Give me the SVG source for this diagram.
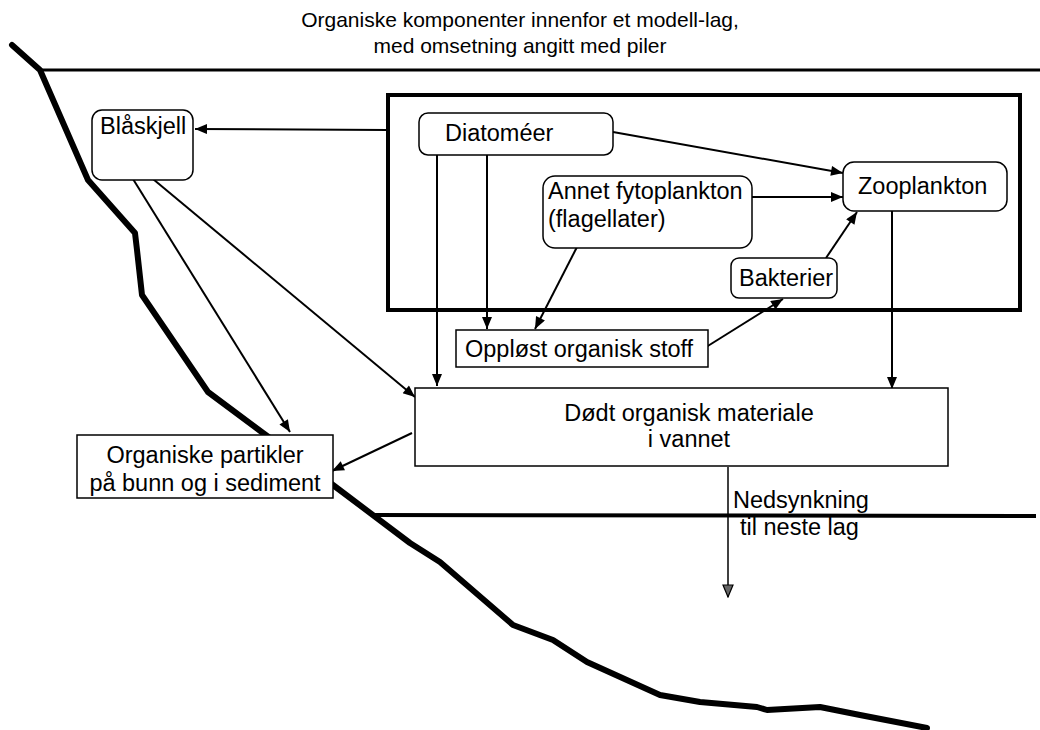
<svg xmlns="http://www.w3.org/2000/svg" width="1040" height="730" viewBox="0 0 1040 730">
<defs>
<style>
text{font-family:"Liberation Sans",Arial,sans-serif;font-size:23.5px;fill:#000}
text.title{font-size:21px}
.box{fill:#fff;stroke:#000;stroke-width:1.5}
.conn{fill:none;stroke:#000;stroke-width:2}
.thin{fill:none;stroke:#000;stroke-width:1.5}
.terrain{fill:none;stroke:#000;stroke-width:6;stroke-linejoin:round;stroke-linecap:round}
.layer{fill:none;stroke:#000}
</style>
<marker id="ah" viewBox="0 0 12 10" refX="12" refY="5" markerWidth="13" markerHeight="10" markerUnits="userSpaceOnUse" orient="auto">
<path d="M0,0 L12,5 L0,10 Z" fill="#000"/>
</marker>
<marker id="ah2" viewBox="0 0 12 14" refX="6" refY="13" markerWidth="12" markerHeight="14" markerUnits="userSpaceOnUse" orient="0">
<path d="M1,1 L11,1 L6,13 Z" fill="#666" stroke="#000" stroke-width="1.2"/>
</marker>
</defs>
<rect width="1040" height="730" fill="#fff"/>

<text class="title" x="520" y="27" text-anchor="middle">Organiske komponenter innenfor et modell-lag,</text>
<text class="title" x="520" y="53" text-anchor="middle">med omsetning angitt med piler</text>

<g id="background">
<line class="layer" x1="40" y1="70" x2="1040" y2="70" stroke-width="3"/>
<line class="layer" x1="372" y1="515" x2="1036" y2="516" stroke-width="4"/>
<polyline class="terrain" points="12,45 40,70 88,180 135,233 137,250 142,295 208,392 263,433 300,460 333,485 410,543 440,562 513,625 553,640 587,662 660,695 700,702 757,707 767,710 820,707 860,715 927,728"/>
<rect x="388" y="95" width="632" height="215" fill="none" stroke="#000" stroke-width="4"/>
</g>

<g id="connectors">
<line class="conn" x1="388" y1="130" x2="195" y2="129" marker-end="url(#ah)"/>
<line class="conn" x1="613" y1="132" x2="843" y2="173" marker-end="url(#ah)"/>
<line class="conn" x1="752" y1="197" x2="843" y2="197" marker-end="url(#ah)"/>
<line class="conn" x1="826" y1="258" x2="857" y2="212" marker-end="url(#ah)"/>
<line class="conn" x1="577" y1="247" x2="535" y2="329" marker-end="url(#ah)"/>
<line class="conn" x1="703" y1="349" x2="783" y2="299" marker-end="url(#ah)"/>
<line class="conn" x1="437" y1="155" x2="437" y2="386" marker-end="url(#ah)"/>
<line class="conn" x1="487" y1="155" x2="487" y2="329" marker-end="url(#ah)"/>
<line class="conn" x1="892" y1="211" x2="892" y2="389" marker-end="url(#ah)"/>
<line class="conn" x1="133" y1="179" x2="290" y2="432" marker-end="url(#ah)"/>
<line class="conn" x1="153" y1="179" x2="415" y2="397" marker-end="url(#ah)"/>
<line class="conn" x1="412" y1="433" x2="332" y2="471" marker-end="url(#ah)"/>
<line class="thin" x1="728" y1="467" x2="728" y2="597" marker-end="url(#ah2)"/>
</g>

<g id="blaskjell">
<rect class="box" x="92" y="110" width="101" height="70" rx="10"/>
<text x="100" y="134">Blåskjell</text>
</g>

<g id="diatomeer">
<rect class="box" x="419" y="113" width="194" height="42" rx="9"/>
<text x="445" y="141">Diatoméer</text>
</g>

<g id="annet">
<rect class="box" x="543" y="176" width="209" height="72" rx="12"/>
<text x="548" y="199">Annet fytoplankton</text>
<text x="548" y="227">(flagellater)</text>
</g>

<g id="zooplankton">
<rect class="box" x="843" y="162" width="164" height="49" rx="11"/>
<text x="858" y="194">Zooplankton</text>
</g>

<g id="bakterier">
<rect class="box" x="731" y="258" width="106" height="40" rx="8"/>
<text x="739" y="286">Bakterier</text>
</g>

<g id="opplost">
<rect class="box" x="456" y="330" width="252" height="37"/>
<text x="465" y="357">Oppløst organisk stoff</text>
</g>

<g id="dodt">
<rect class="box" x="415" y="388" width="533" height="78"/>
<text x="689" y="421" text-anchor="middle">Dødt organisk materiale</text>
<text x="689" y="447" text-anchor="middle">i vannet</text>
</g>

<g id="partikler">
<rect class="box" x="77" y="435" width="256" height="63"/>
<text x="205" y="463" text-anchor="middle">Organiske partikler</text>
<text x="205" y="491" text-anchor="middle">på bunn og i sediment</text>
</g>

<g id="nedsynkning-label">
<text x="733" y="508">Nedsynkning</text>
<text x="740" y="535">til neste lag</text>
</g>
</svg>
